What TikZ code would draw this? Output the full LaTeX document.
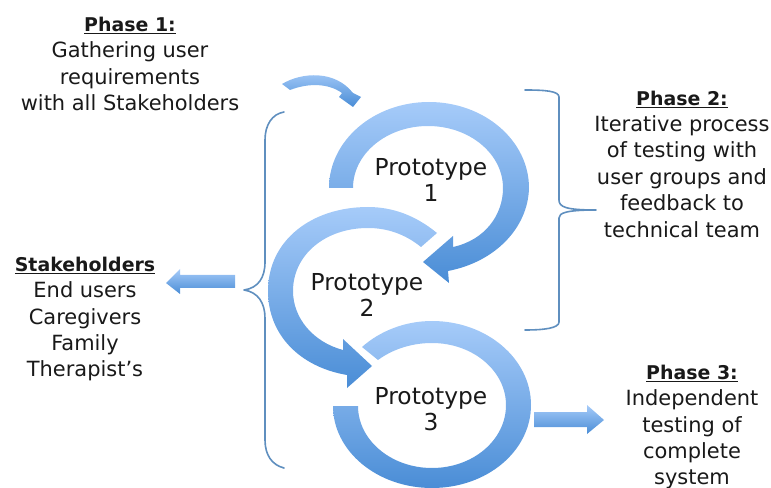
\documentclass[tikz,border=0pt]{standalone}
\usepackage{fontspec}
\setmainfont{DejaVu Sans}
\definecolor{arlight}{HTML}{A6CBF9}
\definecolor{ardark}{HTML}{4A8DD6}
\definecolor{brcol}{HTML}{5F8FBF}
\tikzset{
  ring/.style={top color=arlight,bottom color=ardark,draw=none},
  brace/.style={draw=brcol,line width=1.2pt,line cap=round,line join=round,fill=none},
  lbl/.style={align=center,font=\fontsize{15.7}{19.8}\selectfont,inner sep=0pt,text=black!90},
  proto/.style={align=center,font=\fontsize{17.5}{19.6}\selectfont,inner sep=0pt,text=black!90}
}
\newcommand{\hd}[1]{{\fontsize{14.2}{19.8}\selectfont\textbf{\underline{#1}}}}
\begin{document}
\begin{tikzpicture}[x=0.75pt,y=-0.75pt]
\useasboundingbox (0,0) rectangle (771,488);
% ring 1
\shade[ring] (329,188) arc[start angle=180,end angle=360,x radius=100,y radius=86]
  .. controls (528,228) and (495,262) .. (448,271) -- (449,283) -- (423,262) -- (453,236) -- (453,247)
  .. controls (485,240) and (503,215) .. (503,188)
  arc[start angle=0,end angle=-180,x radius=75,y radius=62] -- cycle;
% ring 2
\shade[ring] (437,233) .. controls (415,215) and (392,207) .. (368,207)
  .. controls (312,207) and (268,240) .. (268,291)
  .. controls (268,335) and (300,367) .. (347,375) -- (347,388) -- (372,366) -- (343,339) -- (343,350)
  .. controls (313,342) and (293,318) .. (293,291)
  .. controls (293,255) and (325,228) .. (368,228)
  .. controls (387,228) and (405,234) .. (421,247) -- cycle;
% ring 3
\shade[ring] (362,347) .. controls (380,331) and (405,321) .. (432,321)
  .. controls (487,321) and (531,359) .. (531,405)
  .. controls (531,451) and (487,488) .. (432,488)
  .. controls (377,488) and (333,451) .. (333,406) -- (358,406)
  .. controls (358,440) and (391,468) .. (432,468)
  .. controls (473,468) and (506,440) .. (506,405)
  .. controls (506,371) and (473,343) .. (432,343)
  .. controls (412,343) and (393,349) .. (378,360) -- cycle;
% small curved arrow
\shade[ring] (282,84) .. controls (302,72) and (335,70) .. (353,93) -- (361,97) -- (353,107) -- (339,97) -- (342,93)
  .. controls (328,83) and (308,83) .. (290,90) -- cycle;
% side arrows
\shade[ring] (235,275) -- (180,275) -- (180,269) -- (166,283) -- (180,294) -- (180,288) -- (235,288) -- cycle;
\shade[ring] (534,412) -- (587,412) -- (587,405) -- (604,420) -- (587,434) -- (587,427) -- (534,427) -- cycle;
% braces
\draw[brace] (284,112) .. controls (272,114) and (265,125) .. (265,140) -- (265,262)
  .. controls (265,278) and (258,288) .. (244,290)
  .. controls (258,292) and (265,303) .. (265,318) -- (265,440)
  .. controls (265,455) and (272,465) .. (284,468);
\draw[brace] (525,90) .. controls (545,90) and (559,91) .. (559,97) -- (559,200)
  .. controls (559,207) and (566,210) .. (596,210)
  .. controls (566,210) and (559,213) .. (559,218) -- (559,322)
  .. controls (559,328) and (545,330) .. (525,330);
% texts
\node[lbl] (p1) at (130,64) {\hd{Phase 1:}\\Gathering user\\requirements\\with all Stakeholders};
\node[lbl] (p2) at (682,164) {\hd{Phase 2:}\\Iterative process\\of testing with\\user groups and\\feedback to\\technical team};
\node[lbl] (p3) at (692,427) {\hd{Phase 3:}\\Independent\\testing of\\complete\\system};
\node[lbl] (st) at (85,319) {\hd{Stakeholders}\\End users\\Caregivers\\Family\\Therapist’s};
\node[proto] (a) at (431,180) {Prototype\\1};
\node[proto] (b) at (367,295) {Prototype\\2};
\node[proto] (c) at (431,409) {Prototype\\3};
\end{tikzpicture}
\end{document}
